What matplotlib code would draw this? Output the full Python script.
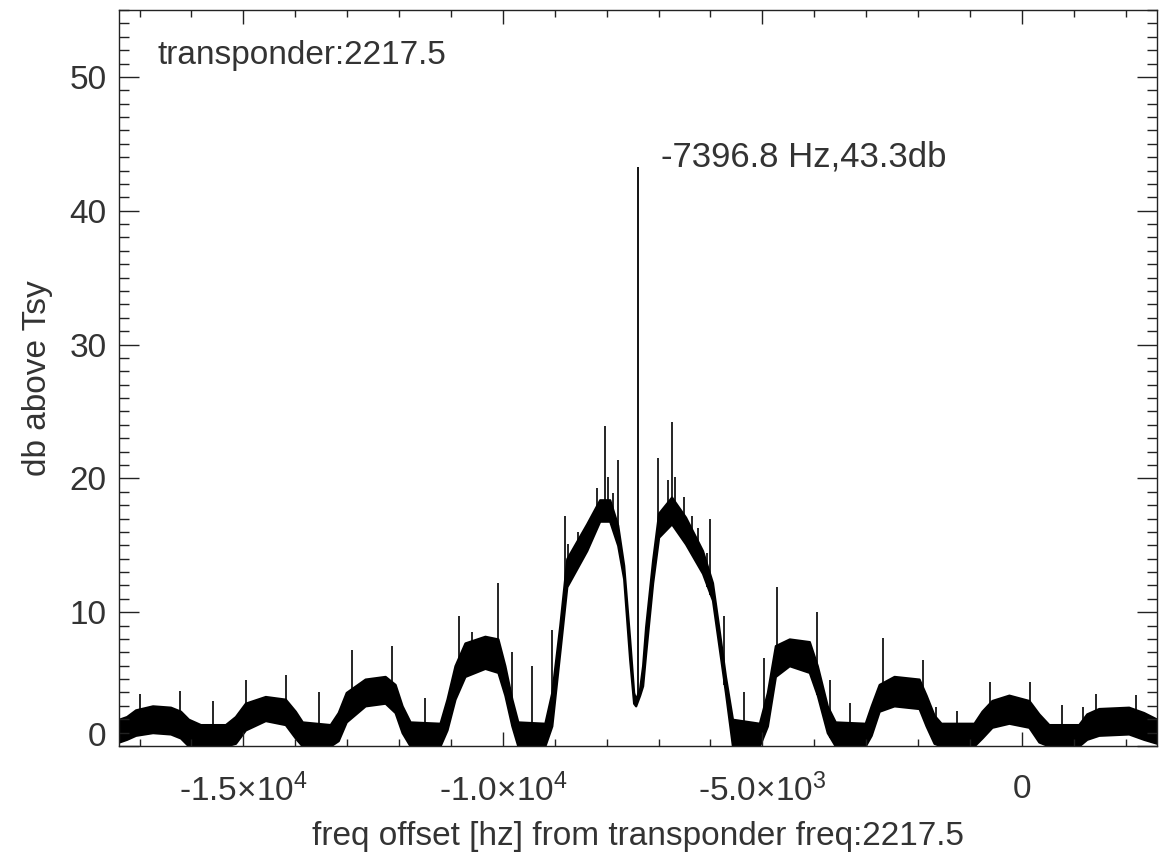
import matplotlib
matplotlib.use('Agg')
import matplotlib.pyplot as plt
import numpy as np
from matplotlib.ticker import MultipleLocator, FixedLocator

plt.rcParams['font.family'] = ['Liberation Sans', 'DejaVu Sans']
plt.rcParams['mathtext.fontset'] = 'custom'
plt.rcParams['mathtext.rm'] = 'Liberation Sans'
plt.rcParams['mathtext.it'] = 'Liberation Sans:italic'
plt.rcParams['mathtext.bf'] = 'Liberation Sans:bold'
plt.rcParams['axes.unicode_minus'] = False

# ---------------- data ----------------
transponder = "2217.5"
peak_freq = -7396.8
peak_db = 43.3

# envelope of the noisy spectrum: frequency [Hz], upper and lower edge [dB]
env_freq = [-17397, -17250, -17077, -16750, -16404, -16212, -16058, -15827, -15346,
            -15154, -14962, -14577, -14192, -14000, -13865, -13327, -13173, -13019,
            -12654, -12269, -12077, -11942, -11788, -11212, -11077, -10923, -10731,
            -10346, -10096, -9962, -9827, -9712, -9192, -9058, -8904, -8769, -8385,
            -8135, -7942, -7788, -7673, -7558, -7481, -7442, -7365, -7308, -7250,
            -7115, -7000, -6750, -6481, -6154, -5962, -5846, -5712, -5577, -5058,
            -4904, -4750, -4481, -4096, -3942, -3750, -3596, -3019, -2904, -2750,
            -2462, -1981, -1846, -1692, -1558, -923, -769, -577, -250, 135, 327,
            519, 1096, 1250, 1481, 2058, 2346, 2603]
env_top = [2.0, 2.2, 2.7, 3.0, 2.9, 2.6, 2.0, 1.6, 1.6,
           2.2, 3.2, 3.7, 3.5, 2.6, 1.8, 1.6, 2.5, 4.0,
           5.0, 5.2, 4.6, 3.0, 1.8, 1.7, 3.5, 6.0, 7.7,
           8.2, 8.0, 6.0, 3.5, 1.8, 1.7, 4.0, 9.0, 14.0, 16.6,
           18.4, 18.4, 16.5, 13.5, 8.0, 4.0, 3.5, 4.3, 6.0, 8.9,
           13.9, 17.4, 18.6, 17.1, 14.6, 12.2, 9.0, 5.2, 2.0, 1.7,
           4.0, 7.5, 8.0, 7.8, 6.0, 3.0, 1.8, 1.7, 3.0, 4.6,
           5.2, 5.0, 3.8, 2.3, 1.7, 1.7, 2.6, 3.4, 3.8, 3.4, 2.4,
           1.6, 1.6, 2.4, 2.8, 2.9, 2.5, 2.0]
env_bot = [0.3, 0.5, 0.8, 1.0, 0.9, 0.6, 0.0, 0.0, 0.0,
           0.2, 1.2, 1.9, 1.6, 0.6, 0.0, 0.0, 0.4, 1.8,
           3.0, 3.2, 2.5, 1.0, 0.0, 0.0, 1.2, 3.5, 5.2,
           5.8, 5.5, 3.8, 1.5, 0.0, 0.0, 1.5, 7.0, 11.9, 14.6,
           16.8, 16.8, 15.0, 12.5, 6.5, 3.2, 3.0, 3.8, 4.5, 6.9,
           12.2, 15.6, 16.6, 15.1, 12.9, 10.9, 7.7, 4.0, 0.0, 0.0,
           1.5, 5.2, 6.0, 5.5, 3.8, 1.0, 0.0, 0.0, 0.8, 2.6,
           3.0, 2.8, 1.5, 0.2, 0.0, 0.0, 0.6, 1.4, 1.7, 1.4, 0.3,
           0.0, 0.0, 0.5, 0.8, 0.9, 0.5, 0.2]

# narrow spikes: frequency [Hz], top [dB]
spike_freq = [-17000, -16231, -15577, -14942, -14173, -13538, -12904, -12135,
              -11500, -10846, -10596, -10096, -9827, -9442, -9058, -8808, -8750,
              -8558, -8192, -8038, -7981, -7885, -7788, -7019, -6827, -6750,
              -6692, -6519, -6365, -6250, -6058, -6000, -5731, -5346, -4962,
              -4712, -3942, -3692, -3308, -2673, -1904, -1654, -1250, -615, 154,
              769, 1173, 1423, 2192]
spike_db = [3.9, 4.1, 3.4, 4.9, 5.3, 4.0, 7.2, 7.5,
            3.6, 9.7, 8.5, 12.2, 7.0, 6.0, 8.7, 17.2, 15.1,
            16.0, 19.3, 23.9, 20.1, 18.9, 21.4, 21.5, 19.9, 24.2,
            20.1, 18.6, 17.2, 16.3, 14.4, 17.0, 9.7, 4.0, 6.6,
            11.9, 10.0, 4.9, 3.2, 8.1, 6.4, 2.9, 2.6, 4.8, 4.8,
            3.1, 2.9, 3.9, 3.8]

xtick_vals = [-15000, -10000, -5000, 0]
xtick_labels = ['-1.5\u00d710$^{4}$', '-1.0\u00d710$^{4}$', '-5.0\u00d710$^{3}$', '0']
ytick_vals = [0, 10, 20, 30, 40, 50]
ytick_labels = ['0', '10', '20', '30', '40', '50']

x_label = "freq offset [hz] from transponder freq:" + transponder
y_label = "db above Tsy"
title_text = "transponder:" + transponder
peak_text = "%.1f Hz,%.1fdb" % (peak_freq, peak_db)

# ---------------- figure ----------------
W, H = 1159, 861
fig = plt.figure(figsize=(W / 100, H / 100), dpi=100)
ax = fig.add_axes([119 / W, 1 - 746 / H, (1157 - 119) / W, (746 - 10) / H])

txt = '#333333'
ax.fill_between(env_freq, env_bot, env_top, color='black', lw=1.6, edgecolor='black')
base = np.interp(spike_freq, env_freq, env_bot)
ax.vlines(spike_freq, base, spike_db, color='black', lw=1.2)
pbase = np.interp(peak_freq, env_freq, env_bot)
ax.vlines([peak_freq], [pbase], [peak_db], color='black', lw=1.3)

ax.set_xlim(peak_freq - 10000, peak_freq + 10000)
ax.set_ylim(0, 55)

ax.xaxis.set_major_locator(FixedLocator(xtick_vals))
ax.set_xticklabels(xtick_labels)
ax.xaxis.set_minor_locator(MultipleLocator(1000))
ax.yaxis.set_major_locator(FixedLocator(ytick_vals))
ax.set_yticklabels(ytick_labels)
ax.yaxis.set_minor_locator(MultipleLocator(1))

ax.tick_params(axis='both', which='both', direction='in', top=True, right=True,
               colors='#222222', labelcolor=txt, labelsize=24)
ax.tick_params(axis='x', which='major', length=10, width=1, pad=20)
ax.tick_params(axis='x', which='minor', length=5, width=1)
ax.tick_params(axis='y', which='major', length=14.4, width=1, pad=9)
ax.tick_params(axis='y', which='minor', length=7.2, width=1)
for s in ax.spines.values():
    s.set_linewidth(1.0)
    s.set_color('#222222')

ylabs = ax.get_yticklabels()
ylabs[0].set_va('baseline')

ax.set_xlabel(x_label, fontsize=24, color=txt, labelpad=9)
ax.set_ylabel(y_label, fontsize=24, color=txt, labelpad=12)

ax.text(peak_freq - 9250, 51.0, title_text, fontsize=24, color=txt, va='baseline')
ax.text(peak_freq + 450, peak_db, peak_text, fontsize=25, color=txt, va='baseline')

fig.savefig('out.png', dpi=100)
